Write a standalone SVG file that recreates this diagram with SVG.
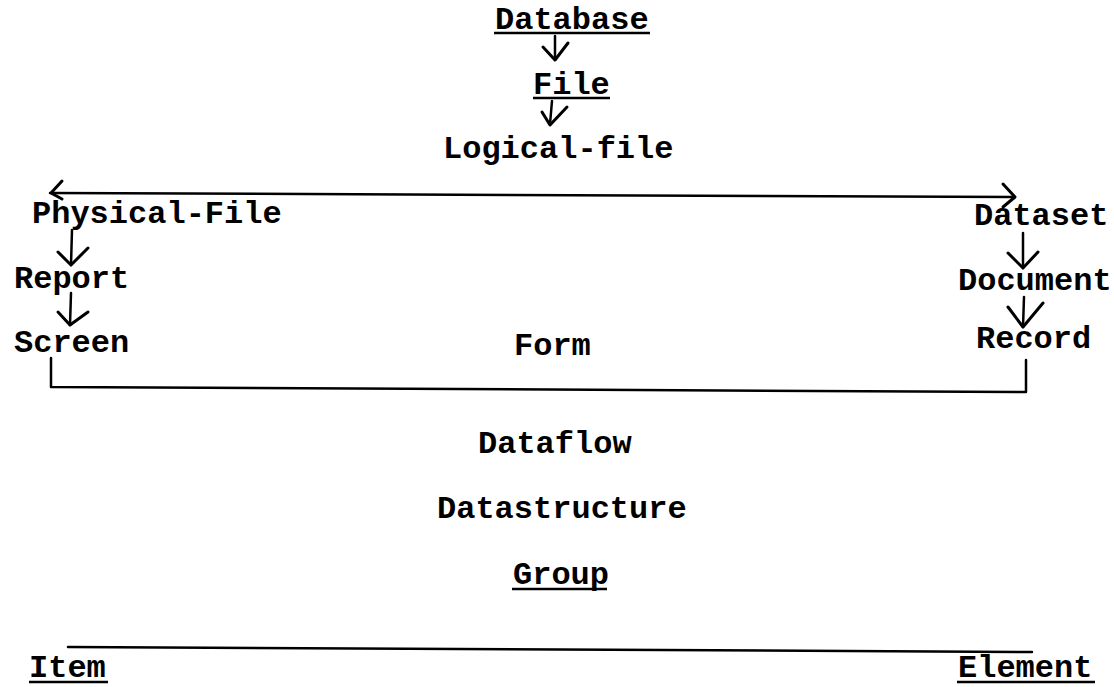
<svg xmlns="http://www.w3.org/2000/svg" width="1114" height="687" viewBox="0 0 1114 687">
<style>
text{font-family:"Liberation Mono","Courier New",monospace;font-weight:bold;font-size:32px;fill:#000}
.ln{stroke:#000;stroke-width:2.5;fill:none;stroke-linecap:round;stroke-linejoin:round}
.hd{stroke:#000;stroke-width:3;fill:none;stroke-linecap:round;stroke-linejoin:round}
.ul{stroke:#000;stroke-width:2.5}
</style>
<rect width="1114" height="687" fill="#fff"/>
<g id="database"><text x="495" y="29">Database</text><line class="ul" x1="494" y1="33" x2="650" y2="33"/></g>
<g id="file"><text x="533" y="94">File</text><line class="ul" x1="533" y1="98" x2="610" y2="98"/></g>
<g id="logical-file"><text x="443" y="158">Logical-file</text></g>
<g id="physical-file"><text x="32" y="223">Physical-File</text></g>
<g id="report"><text x="14" y="288">Report</text></g>
<g id="screen"><text x="14" y="352">Screen</text></g>
<g id="form"><text x="514" y="355">Form</text></g>
<g id="dataset"><text x="974" y="225">Dataset</text></g>
<g id="document"><text x="958" y="290">Document</text></g>
<g id="record"><text x="976" y="348">Record</text></g>
<g id="dataflow"><text x="478" y="453">Dataflow</text></g>
<g id="datastructure"><text x="437" y="518">Datastructure</text></g>
<g id="group"><text x="513" y="584">Group</text><line class="ul" x1="512" y1="589" x2="607" y2="589"/></g>
<g id="item"><text x="29" y="677">Item</text><line class="ul" x1="29" y1="682" x2="108" y2="682"/></g>
<g id="element"><text x="958" y="677">Element</text><line class="ul" x1="957" y1="682" x2="1095" y2="682"/></g>
<g id="connectors">
<path class="ln" d="M555 36 L555 60"/><path class="hd" d="M543 47 L555 60 L568 43"/>
<path class="ln" d="M552 101 L550 124"/><path class="hd" d="M542 112 L550 125 L567 107"/>
<path class="ln" d="M50 193 L1015 197"/><path class="hd" d="M62 181 L51 193 L62 199"/><path class="hd" d="M1003 184 L1015 197 L1003 207"/>
<path class="ln" d="M72 230 L71 265"/><path class="hd" d="M58 252 L71 265 L88 248"/>
<path class="ln" d="M71 293 L70 325"/><path class="hd" d="M58 312 L70 325 L88 312"/>
<path class="ln" d="M1023 233 L1023 268"/><path class="hd" d="M1008 253 L1023 268 L1038 252"/>
<path class="ln" d="M1024 297 L1023 327"/><path class="hd" d="M1008 307 L1023 327 L1043 303"/>
<path class="ln" d="M51 358 L51 387 L1026 392 L1026 360"/>
<path class="ln" d="M68 647 L1032 652"/>
</g>
</svg>
